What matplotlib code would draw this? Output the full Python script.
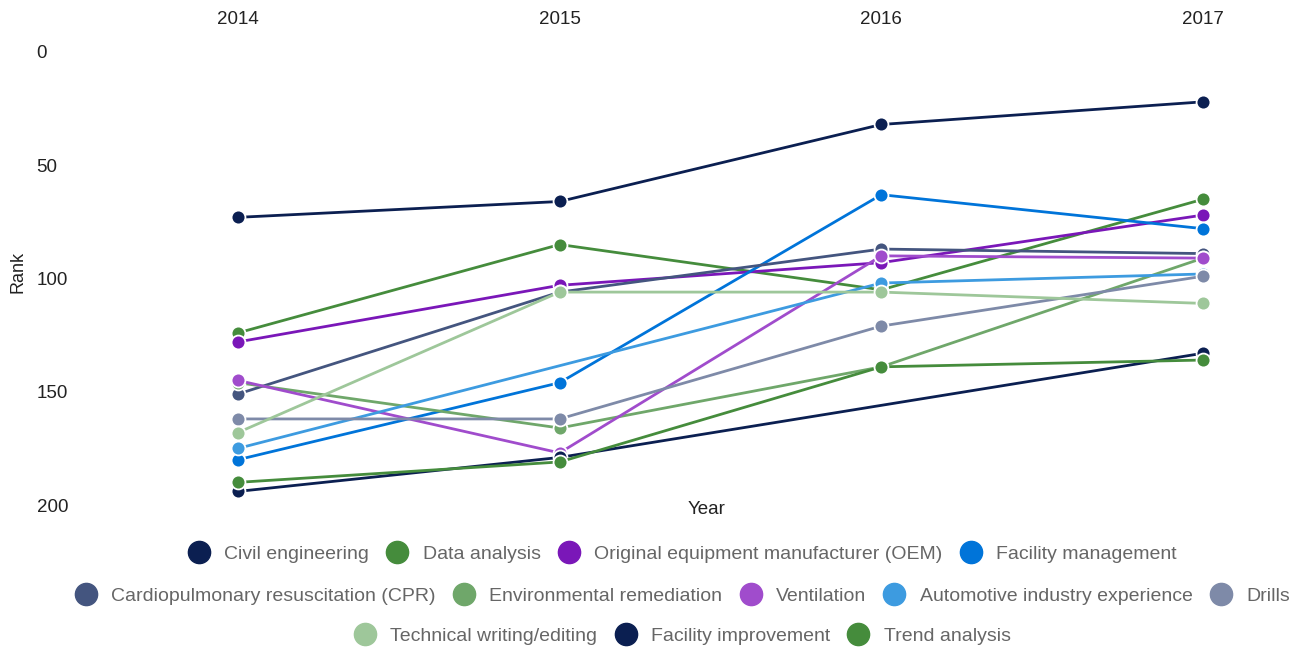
import numpy as np
import matplotlib
matplotlib.use("Agg")
import matplotlib.pyplot as plt
from matplotlib.lines import Line2D

plt.rcParams['font.family'] = ['Liberation Sans', 'DejaVu Sans']

years = [2014, 2015, 2016, 2017]
series_names = [
    "Civil engineering", "Data analysis", "Original equipment manufacturer (OEM)",
    "Facility management", "Cardiopulmonary resuscitation (CPR)", "Environmental remediation",
    "Ventilation", "Automotive industry experience", "Drills",
    "Technical writing/editing", "Facility improvement", "Trend analysis",
]
nan = np.nan
civil_engineering = [73, 66, 32, 22]
data_analysis = [124, 85, 105, 65]
oem = [128, 103, 93, 72]
facility_management = [180, 146, 63, 78]
cpr = [151, 106, 87, 89]
environmental_remediation = [146, 166, 139, 91]
ventilation = [145, 177, 90, 91]
automotive = [175, nan, 102, 98]
drills = [162, 162, 121, 99]
technical_writing = [168, 106, 106, 111]
facility_improvement = [194, 179, nan, 133]
trend_analysis = [190, 181, 139, 136]

values = [civil_engineering, data_analysis, oem, facility_management, cpr,
          environmental_remediation, ventilation, automotive, drills,
          technical_writing, facility_improvement, trend_analysis]
colors = ["#0b1f51", "#458c3c", "#7a17b8", "#0074d9", "#44557f", "#6fa76a",
          "#a04ccc", "#3d9be0", "#7e8aa8", "#9ec79a", "#0b1f51", "#458c3c"]

W, H = 1304, 652
fig = plt.figure(figsize=(W / 100, H / 100), dpi=100)
ax_l, ax_r, ax_t, ax_b = 70, 1260, 52, 505
ax = fig.add_axes([ax_l / W, 1 - ax_b / H, (ax_r - ax_l) / W, (ax_b - ax_t) / H])

px_per_year = (1203 - 238) / 3
ax.set_xlim(2014 - (238 - ax_l) / px_per_year, 2017 + (ax_r - 1203) / px_per_year)
ax.set_ylim(200, 0)

for name, vals, c in zip(series_names, values, colors):
    x = np.array(years, dtype=float)
    y = np.array(vals, dtype=float)
    m = ~np.isnan(y)
    ax.plot(x[m], y[m], color=c, lw=2.0, marker='o', ms=10, mfc=c,
            mec='white', mew=1.3, clip_on=False, label=name)

for s in ax.spines.values():
    s.set_visible(False)
ax.xaxis.tick_top()
ax.set_xticks(years)
ax.set_xticklabels([str(y) for y in years])
ax.tick_params(axis='x', length=0, pad=17, labelsize=13.5, labelcolor='#222222')
ax.set_yticks([0, 50, 100, 150, 200])
ax.tick_params(axis='y', length=0, pad=24, labelsize=13.5, labelcolor='#222222')
for t in ax.get_yticklabels():
    t.set_horizontalalignment('left')

fig.text(18 / W, 1 - 272 / H, "Rank", rotation=90, ha='center', va='center',
         fontsize=13, color='#222222')
fig.text(707 / W, 1 - 509 / H, "Year", ha='center', va='center',
         fontsize=13.5, color='#222222')

rows = [[0, 1, 2, 3], [4, 5, 6, 7, 8], [9, 10, 11]]
row_y = [554, 596, 636]
for r, yy in zip(rows, row_y):
    handles = [Line2D([], [], ls='none', marker='o', ms=16, mfc=colors[i],
                      mec=colors[i]) for i in r]
    labels = [series_names[i] for i in r]
    leg = fig.legend(handles, labels, loc='center', bbox_to_anchor=(683 / W, 1 - yy / H),
                     ncol=len(r), frameon=False, fontsize=14, handlelength=1.0,
                     handletextpad=0.8, columnspacing=0.95, borderpad=0, borderaxespad=0)
    for t in leg.get_texts():
        t.set_color('#666666')

fig.savefig("out.png", dpi=100)
